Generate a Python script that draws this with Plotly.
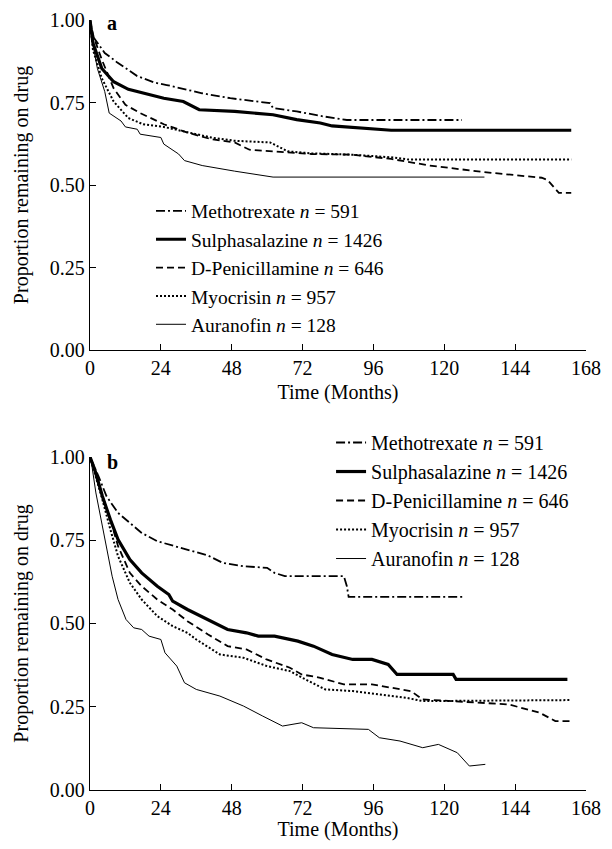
import plotly.graph_objects as go

# ---------------- data ----------------
series_names = ["Methotrexate <i>n</i> = 591", "Sulphasalazine <i>n</i> = 1426",
                "D-Penicillamine <i>n</i> = 646", "Myocrisin <i>n</i> = 957",
                "Auranofin <i>n</i> = 128"]

# Panel a
mtx_a_t = [0, 1, 5, 9, 16, 22, 26, 33, 38, 47.5, 61, 62, 70, 79, 87, 126]
mtx_a_s = [1.0, 0.95, 0.90, 0.873, 0.83, 0.81, 0.803, 0.788, 0.778, 0.763, 0.748, 0.733, 0.723, 0.708, 0.697, 0.697]

ssz_a_t = [0, 1, 4, 8, 13, 20, 25, 31.6, 37, 49, 62, 70, 78, 82, 91, 102, 163]
ssz_a_s = [1.0, 0.93, 0.853, 0.813, 0.79, 0.775, 0.763, 0.753, 0.728, 0.723, 0.713, 0.698, 0.688, 0.679, 0.674, 0.666, 0.666]

dpen_a_t = [0, 1.2, 4, 8, 12, 17, 25, 33, 41, 49, 54, 62, 75, 88.6, 102, 115, 133.6, 153, 155, 158.8, 163]
dpen_a_s = [1.0, 0.95, 0.88, 0.793, 0.743, 0.718, 0.684, 0.659, 0.639, 0.629, 0.607, 0.602, 0.594, 0.592, 0.579, 0.559, 0.539, 0.522, 0.515, 0.476, 0.476]

myo_a_t = [0, 1, 4, 8, 13, 18, 25, 33, 41, 49, 61, 67, 75, 88.6, 102, 108, 163]
myo_a_s = [1.0, 0.91, 0.823, 0.753, 0.703, 0.684, 0.676, 0.661, 0.644, 0.634, 0.629, 0.602, 0.596, 0.592, 0.584, 0.577, 0.577]

aur_a_t = [0, 0.5, 2.5, 5, 6.5, 10.5, 12, 16, 17, 24, 25, 30, 32, 38, 49, 62, 133.6]
aur_a_s = [1.0, 0.95, 0.853, 0.783, 0.718, 0.694, 0.676, 0.669, 0.654, 0.644, 0.624, 0.594, 0.574, 0.559, 0.542, 0.524, 0.524]

# Panel b
mtx_b_t = [0, 2.9, 5.6, 9.5, 13.5, 17.5, 22.8, 28, 33, 40, 45, 52, 60, 62.5, 66, 86, 87, 87.6, 126.6]
mtx_b_s = [1.0, 0.942, 0.882, 0.832, 0.802, 0.772, 0.747, 0.734, 0.722, 0.704, 0.682, 0.672, 0.667, 0.652, 0.642, 0.642, 0.612, 0.58, 0.58]

ssz_b_t = [0, 1.6, 4.2, 6.9, 9.5, 13.5, 17.5, 22.8, 26.7, 28, 33, 40, 46.6, 53, 57, 62.5, 70.4, 75.7, 82, 89, 95.5, 101, 104, 123, 124, 161.7]
ssz_b_s = [1.0, 0.962, 0.882, 0.812, 0.752, 0.692, 0.652, 0.612, 0.587, 0.567, 0.542, 0.512, 0.482, 0.472, 0.462, 0.462, 0.447, 0.432, 0.407, 0.392, 0.392, 0.377, 0.347, 0.347, 0.332, 0.332]

dpen_b_t = [0, 1.6, 4.2, 6.9, 9.5, 13.5, 17.5, 22.8, 28, 33, 40, 46.6, 53, 59.8, 67.7, 71.7, 78, 86, 95.5, 102, 108.7, 112.7, 128.5, 141.8, 152.3, 157.6, 163]
dpen_b_s = [1.0, 0.962, 0.882, 0.812, 0.732, 0.652, 0.612, 0.572, 0.542, 0.507, 0.467, 0.432, 0.422, 0.392, 0.367, 0.347, 0.337, 0.317, 0.317, 0.307, 0.297, 0.272, 0.264, 0.257, 0.232, 0.207, 0.207]

myo_b_t = [0, 1.6, 4.2, 6.9, 9.5, 13.5, 17.5, 22.8, 28, 33, 36, 44, 52, 60, 67.7, 73, 79.7, 89, 98, 107, 112.7, 163]
myo_b_s = [1.0, 0.952, 0.872, 0.782, 0.702, 0.622, 0.572, 0.522, 0.492, 0.472, 0.452, 0.407, 0.397, 0.372, 0.357, 0.332, 0.302, 0.297, 0.287, 0.277, 0.267, 0.27]

aur_b_t = [0, 0.5, 2, 5.6, 7.5, 9.5, 12.2, 14.8, 17.5, 20, 24, 25.4, 29.4, 32, 36, 44, 52, 58.5, 65.2, 71.7, 75.7, 94.3, 98, 105, 112.7, 118, 124.4, 128.5, 133.9]
aur_b_s = [1.0, 0.982, 0.892, 0.732, 0.642, 0.572, 0.512, 0.487, 0.482, 0.462, 0.452, 0.412, 0.372, 0.322, 0.302, 0.282, 0.252, 0.222, 0.192, 0.202, 0.187, 0.182, 0.157, 0.147, 0.127, 0.137, 0.112, 0.072, 0.077]

x_ticks = [0, 24, 48, 72, 96, 120, 144, 168]
y_ticks = [0.0, 0.25, 0.5, 0.75, 1.0]

# ---------------- styles ----------------
styles = [
    dict(color="black", width=1.8, dash="9px,3px,2px,3px"),
    dict(color="black", width=3.2, dash="solid"),
    dict(color="black", width=1.8, dash="7px,4px"),
    dict(color="black", width=2.0, dash="2px,2px"),
    dict(color="black", width=1.0, dash="solid"),
]

FONT = "Liberation Serif, Times New Roman, serif"

fig = go.Figure()
panel_a = [(mtx_a_t, mtx_a_s), (ssz_a_t, ssz_a_s), (dpen_a_t, dpen_a_s), (myo_a_t, myo_a_s), (aur_a_t, aur_a_s)]
panel_b = [(mtx_b_t, mtx_b_s), (ssz_b_t, ssz_b_s), (dpen_b_t, dpen_b_s), (myo_b_t, myo_b_s), (aur_b_t, aur_b_s)]

for i, (t, s) in enumerate(panel_a):
    fig.add_trace(go.Scatter(x=t, y=s, mode="lines", name=series_names[i], line=styles[i],
                             xaxis="x", yaxis="y", legend="legend", showlegend=True))
for i, (t, s) in enumerate(panel_b):
    fig.add_trace(go.Scatter(x=t, y=s, mode="lines", name=series_names[i], line=styles[i],
                             xaxis="x2", yaxis="y2", legend="legend2", showlegend=True))

axis_common = dict(showline=True, linecolor="black", linewidth=1.3, ticks="inside", ticklen=6,
                   tickwidth=1.2, tickcolor="black", showgrid=False, zeroline=False, automargin=False,
                   tickfont=dict(family=FONT, size=20, color="black"))

xcommon = dict(axis_common, range=[0, 168], tickvals=x_ticks, ticktext=[str(v) for v in x_ticks],
               title=dict(text="Time (Months)", font=dict(family=FONT, size=20, color="black"), standoff=6))
ycommon = dict(axis_common, range=[0, 1], tickvals=y_ticks, ticktext=[f"{v:.2f}" for v in y_ticks],
               title=dict(text="Proportion remaining on drug", font=dict(family=FONT, size=20, color="black"), standoff=15))

fig.update_layout(
    width=596, height=833,
    paper_bgcolor="white", plot_bgcolor="white",
    margin=dict(l=82, r=18, t=12, b=51),
    font=dict(family=FONT, size=20, color="black"),
    xaxis=dict(xcommon, domain=[0, 1], anchor="y"),
    yaxis=dict(ycommon, domain=[0.5714, 1.0], anchor="x"),
    xaxis2=dict(xcommon, domain=[0, 1], anchor="y2"),
    yaxis2=dict(ycommon, domain=[0.0, 0.4325], anchor="x2"),
    legend=dict(x=0.123, y=0.777, xanchor="left", yanchor="top", xref="paper", yref="paper",
                bgcolor="rgba(0,0,0,0)", font=dict(family=FONT, size=19.5, color="black"),
                tracegroupgap=0, itemwidth=30),
    legend2=dict(x=0.486, y=0.4766, xanchor="left", yanchor="top", xref="paper", yref="paper",
                 bgcolor="rgba(0,0,0,0)", font=dict(family=FONT, size=20, color="black"),
                 tracegroupgap=0, itemwidth=30),
    annotations=[
        dict(text="<b>a</b>", x=7.5, y=0.99, xref="x", yref="y", showarrow=False,
             font=dict(family=FONT, size=20, color="black")),
        dict(text="<b>b</b>", x=7.5, y=0.985, xref="x2", yref="y2", showarrow=False,
             font=dict(family=FONT, size=20, color="black")),
    ],
)

fig.write_html("out.html")
